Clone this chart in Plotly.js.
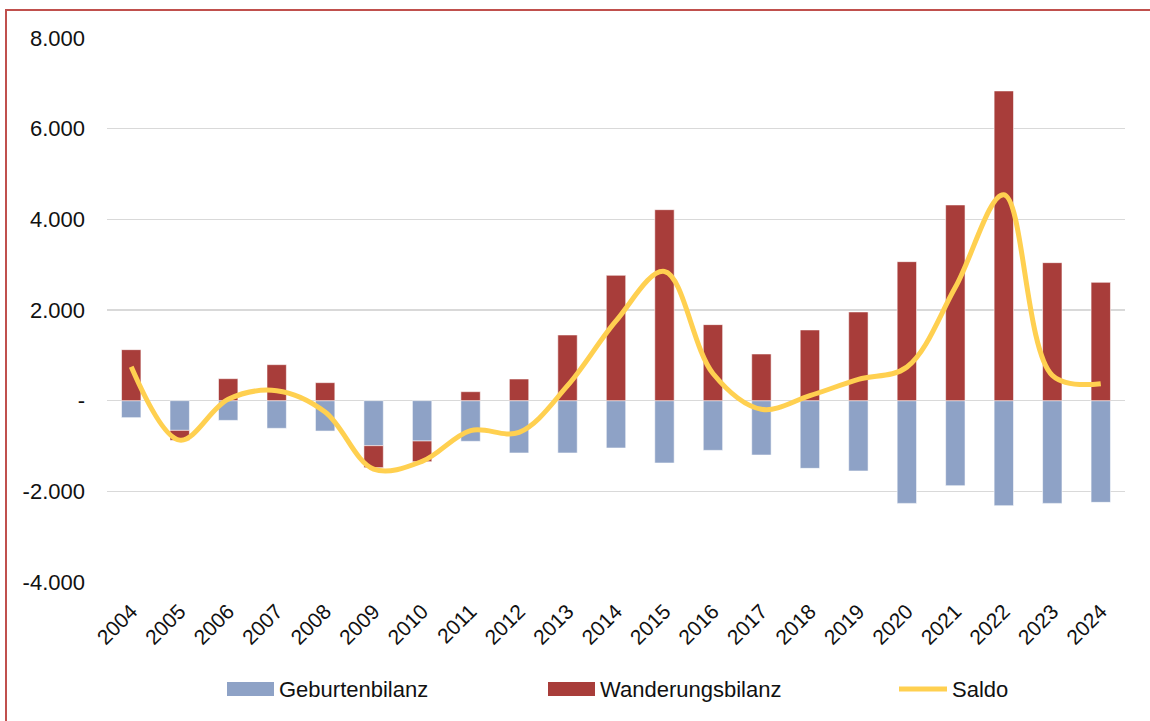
<!DOCTYPE html>
<html>
<head>
<meta charset="utf-8">
<script src="https://cdn.plot.ly/plotly-3.0.1.min.js"></script>
<style>
  html, body { margin: 0; padding: 0; background: #fff; }
  #wrap { position: relative; width: 1150px; height: 721px; overflow: hidden; }
  #chart { width: 1150px; height: 721px; }
  #frame { position: absolute; left: 5px; top: 9px; width: 1160px; height: 730px;
           border-left: 2px solid #C0504D; border-top: 2px solid #C0504D; pointer-events: none; }
</style>
</head>
<body>
<div id="wrap">
  <div id="chart"></div>
  <div id="frame"></div>
</div>
<script>
const years = ['2004','2005','2006','2007','2008','2009','2010','2011','2012','2013','2014',
               '2015','2016','2017','2018','2019','2020','2021','2022','2023','2024'];
const geburtenbilanz = [-375,-655,-435,-610,-670,-993,-890,-897,-1154,-1154,-1044,
                        -1375,-1096,-1199,-1493,-1551,-2266,-1875,-2316,-2266,-2243];
const wanderungsbilanz = [1125,-220,485,794,397,-485,-456,198,478,1449,2765,
                          4213,1677,1030,1560,1957,3066,4317,6832,3044,2610];
const saldo = [750,-870,30,220,-250,-1510,-1340,-660,-700,330,1760,
               2850,600,-190,110,470,740,2500,4540,560,375];
const yTickVals = [-4000,-2000,0,2000,4000,6000,8000];
const yTickText = ['-4.000','-2.000','-','2.000','4.000','6.000','8.000'];
const seriesNames = ['Geburtenbilanz','Wanderungsbilanz','Saldo'];

const colBlue = '#8EA2C6', colRed = '#A83D3A', colYellow = '#FFD050';
const FONT = '"Liberation Sans", Arial, sans-serif';

// plot area in pixels
const L = 107, R = 1125, T = 38, B = 582;
const px = x => (x - L) / (R - L);
const py = y => (B - y) / (B - T);

const traces = [
  { type: 'bar', name: seriesNames[0], x: years, y: geburtenbilanz,
    marker: { color: colBlue, line: { color: 'rgba(255,255,255,0.7)', width: 0.8 } },
    showlegend: false, hoverinfo: 'x+y' },
  { type: 'bar', name: seriesNames[1], x: years, y: wanderungsbilanz,
    marker: { color: colRed, line: { color: 'rgba(255,255,255,0.7)', width: 0.8 } },
    showlegend: false, hoverinfo: 'x+y' },
  { type: 'scatter', mode: 'lines', name: seriesNames[2], x: years, y: saldo,
    line: { color: colYellow, width: 5, shape: 'spline', smoothing: 1 },
    showlegend: false, hoverinfo: 'x+y' }
];

const legendY = 689;
const shapes = [
  { type: 'rect', xref: 'paper', yref: 'paper', x0: px(227), x1: px(274), y0: py(682), y1: py(696),
    fillcolor: colBlue, line: { width: 0 } },
  { type: 'rect', xref: 'paper', yref: 'paper', x0: px(548), x1: px(595), y0: py(682), y1: py(696),
    fillcolor: colRed, line: { width: 0 } },
  { type: 'line', xref: 'paper', yref: 'paper', x0: px(899), x1: px(947), y0: py(legendY), y1: py(legendY),
    line: { color: colYellow, width: 5 } }
];
const annotations = [
  { text: seriesNames[0], x: px(278), xanchor: 'left', xref: 'paper' },
  { text: seriesNames[1], x: px(599), xanchor: 'left', xref: 'paper' },
  { text: seriesNames[2], x: px(951), xanchor: 'left', xref: 'paper' }
].map(a => Object.assign(a, { y: py(legendY), yref: 'paper', yanchor: 'middle', showarrow: false,
      font: { family: FONT, size: 22, color: '#111' }, borderpad: 0 }));

const layout = {
  width: 1150, height: 721,
  margin: { l: L, r: 1150 - R, t: T, b: 721 - B, pad: 0 },
  paper_bgcolor: '#ffffff', plot_bgcolor: '#ffffff',
  barmode: 'relative', bargap: 0.6,
  showlegend: false,
  font: { family: FONT, size: 21, color: '#111' },
  xaxis: { type: 'category', tickangle: -45, showgrid: false, showline: false, zeroline: false,
           ticks: '', tickfont: { family: FONT, size: 21, color: '#111' }, ticklabelstandoff: 12 },
  yaxis: { range: [-4000, 8000], tickvals: yTickVals, ticktext: yTickText, showline: false,
           gridcolor: '#D9D9D9', gridwidth: 1.5, zeroline: true, zerolinecolor: '#D9D9D9', zerolinewidth: 1.5,
           ticks: '', tickfont: { family: FONT, size: 22, color: '#111' }, ticklabelstandoff: 21 },
  shapes: shapes,
  annotations: annotations
};

Plotly.newPlot('chart', traces, layout, { displayModeBar: false, staticPlot: true });
</script>
</body>
</html>
